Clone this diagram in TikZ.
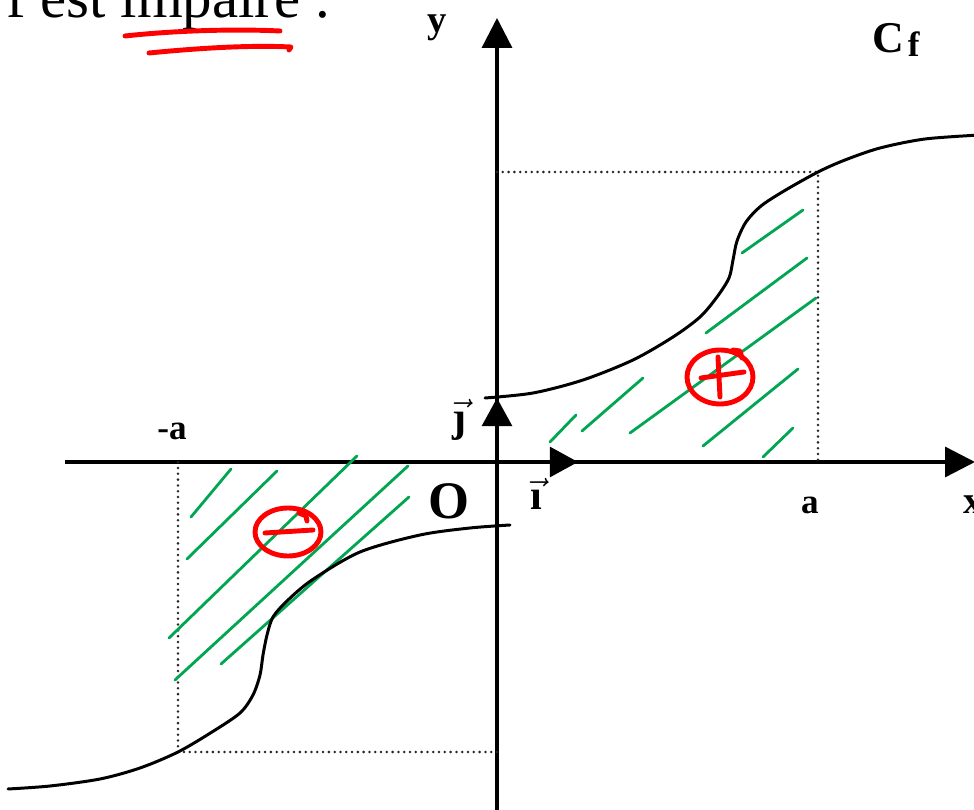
\documentclass[tikz,border=0pt]{standalone}
\usepackage{fontspec}
\setmainfont{Liberation Serif}
\usetikzlibrary{arrows.meta}
\definecolor{hatch}{RGB}{0,166,81}
\definecolor{pen}{RGB}{255,0,0}
\begin{document}
\begin{tikzpicture}[x=0.02cm,y=-0.02cm,
  axis/.style={line width=1.9pt,-{Triangle[length=17pt,width=17pt]}},
  unitvec/.style={line width=1.9pt,-{Triangle[length=16pt,width=17pt]}},
  curve/.style={line width=1.7pt,line cap=round},
  guide/.style={line width=1.6pt,line cap=round,dash pattern=on 0pt off 3.3pt,black!85},
  hatchline/.style={hatch,line width=1.6pt,line cap=round},
  penline/.style={pen,line width=2.8pt,line cap=round,line join=round},
  lbl/.style={inner sep=0pt,font=\bfseries\fontsize{20}{20}\selectfont}]
\clip (0,0) rectangle (974,810);
% title (cut at the top)
\node[anchor=base west,inner sep=0pt,font=\fontsize{33.5}{33.5}\selectfont] (title) at (6,18) {f est impaire .};
\draw[penline] (125,36) .. controls (180,30) and (240,29) .. (280,31);
\draw[penline] (149,53) .. controls (200,48) and (250,45) .. (291,47) -- (289,50);
% axes
\coordinate (xs) at (65,462);
\coordinate (xe) at (975,462);
\coordinate (ys) at (497,812);
\coordinate (ye) at (497,18);
\coordinate (O) at (497,462);
\coordinate (itip) at (578,462);
\coordinate (jtip) at (497,398);
\draw[axis] (xs) -- (xe);
\draw[axis] (ys) -- (ye);
\draw[unitvec] (O) -- (itip);
\draw[unitvec] (O) -- (jtip);
% dotted guides
\coordinate (A) at (818,172);
\coordinate (Ax) at (818,462);
\coordinate (Ay) at (497,172);
\coordinate (B) at (178,752);
\coordinate (Bx) at (178,462);
\coordinate (By) at (497,752);
\draw[guide] (Ay) -- (A) -- (Ax);
\draw[guide] (By) -- (B) -- (Bx);
% hatching
\draw[hatchline] (742,253) -- (803,210);
\draw[hatchline] (706,333) -- (807,258);
\draw[hatchline] (630,433) -- (816,298);
\draw[hatchline] (582,431) -- (643,378);
\draw[hatchline] (550,442) -- (576,415);
\draw[hatchline] (703,446) -- (798,369);
\draw[hatchline] (763,457) -- (793,428);
\draw[hatchline] (191,517) -- (231,469);
\draw[hatchline] (187,559) -- (277,471);
\draw[hatchline] (169,638) -- (357,456);
\draw[hatchline] (175,680) -- (408,466);
\draw[hatchline] (221,664) -- (409,497);
% curve C_f
\draw[curve] plot[smooth,tension=0.5] coordinates {(485,398) (533,393) (583,380) (633,360) (673,337) (700,317) (717,297) (729,278) (733,260) (737,241) (746,222) (761,206) (784,191) (818,172) (845,160) (880,148) (925,139) (980,135)};
\draw[curve] plot[smooth,tension=0.5] coordinates {(510,525) (470,528) (420,535) (360,552) (312,580) (287,601) (273,617) (267,635) (263,655) (260,675) (253,695) (240,713) (212,732) (178,752) (140,768) (100,779) (50,786) (8,789)};
% red signs
\draw[penline] (720,377) ellipse [x radius=33, y radius=27];
\draw[penline] (733,350) -- (740,351) -- (742,358);
\draw[penline] (701,378) -- (744,372);
\draw[penline] (718,357) -- (720,397);
\draw[penline] (288,532) ellipse [x radius=33, y radius=24];
\draw[penline] (299,513) -- (306,516) -- (307,521);
\draw[penline] (265,533) -- (313,530);
% labels
\node[lbl,font=\bfseries\fontsize{22}{22}\selectfont] (ylab) at (437,28) {y};
\node[lbl,font=\bfseries\fontsize{22}{22}\selectfont] (xlab) at (973,505) {x};
\node[lbl] (alab) at (810,505) {a};
\node[lbl] (malab) at (172,431) {-a};
\node[lbl,font=\bfseries\fontsize{30}{30}\selectfont] (Olab) at (449,501) {O};
\node[lbl,font=\bfseries\fontsize{24}{24}\selectfont] (ilab) at (536,494) {$\vec{\mbox{\bfseries ı}}$};
\node[lbl,font=\bfseries\fontsize{24}{24}\selectfont] (jlab) at (460,420) {$\vec{\mbox{\bfseries ȷ}}$};
\node[lbl,font=\bfseries\fontsize{25}{25}\selectfont] (cflab) at (896,40) {C\hspace{2pt}\raisebox{-2pt}{\fontsize{20}{20}\selectfont f}};
\end{tikzpicture}
\end{document}
